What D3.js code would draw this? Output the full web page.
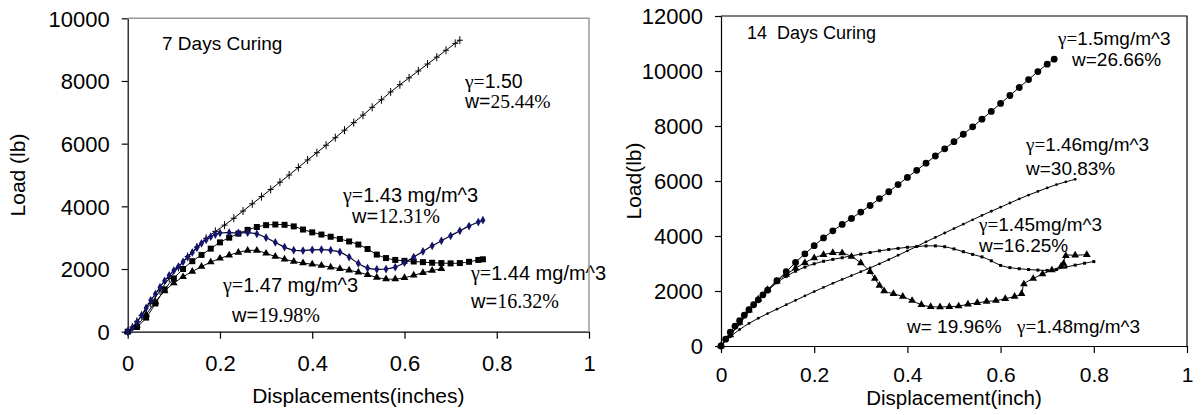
<!DOCTYPE html>
<html><head><meta charset="utf-8">
<script src="https://cdn.jsdelivr.net/npm/d3@7"></script>
<style>
html,body{margin:0;padding:0;background:#fff;}
svg{display:block;}
text{font-family:"Liberation Sans",Arial,sans-serif;fill:#000;}
.serif{font-family:"Liberation Serif","Times New Roman",serif;}
</style></head>
<body>
<svg id="c" width="1201" height="415"></svg>
<script>
// ---------- DATA ----------
const xTicks = [0, 0.2, 0.4, 0.6, 0.8, 1];
const xTickLabels = ["0", "0.2", "0.4", "0.6", "0.8", "1"];
const yTicksL = [0, 2000, 4000, 6000, 8000, 10000];
const yTicksR = [0, 2000, 4000, 6000, 8000, 10000, 12000];

// 7 days curing
const l150_d = [0,0.01,0.02,0.03,0.05,0.07,0.09,0.11,0.13,0.15,0.17,0.19,0.21,0.23,0.25,0.27,0.29,0.31,0.33,0.35,0.37,0.39,0.41,0.43,0.45,0.47,0.49,0.51,0.53,0.55,0.57,0.59,0.61,0.63,0.65,0.67,0.69,0.71,0.72];
const l150_L = [0,150,330,520,900,1300,1700,2050,2400,2700,2980,3200,3400,3620,3850,4080,4310,4540,4770,5000,5240,5480,5710,5950,6190,6430,6670,6910,7160,7400,7650,7880,8100,8320,8540,8760,8980,9200,9300];

const l143_d = [0,0.01,0.02,0.03,0.04,0.05,0.06,0.07,0.08,0.09,0.10,0.11,0.12,0.13,0.14,0.15,0.16,0.17,0.18,0.19,0.20,0.22,0.24,0.26,0.28,0.30,0.32,0.34,0.36,0.38,0.40,0.42,0.44,0.46,0.48,0.50,0.52,0.54,0.56,0.58,0.60,0.62,0.64,0.66,0.68,0.70,0.72,0.74,0.76,0.77];
const l143_L = [0,120,300,520,760,1000,1200,1420,1620,1800,1950,2080,2230,2380,2530,2680,2820,2930,3030,3100,3150,3160,3150,3160,3120,3000,2850,2700,2600,2590,2610,2620,2600,2540,2380,2180,2030,1990,2000,2060,2200,2380,2560,2740,2900,3060,3220,3370,3500,3560];

const l144_d = [0,0.02,0.04,0.06,0.08,0.10,0.12,0.14,0.16,0.18,0.20,0.22,0.24,0.26,0.28,0.30,0.32,0.34,0.36,0.38,0.40,0.42,0.44,0.46,0.48,0.50,0.52,0.54,0.56,0.58,0.60,0.62,0.64,0.66,0.68,0.70,0.72,0.74,0.76,0.77];
const l144_L = [0,150,450,900,1350,1700,2000,2250,2450,2650,2850,3000,3130,3250,3340,3400,3420,3410,3360,3260,3170,3100,3030,2960,2880,2780,2640,2460,2350,2290,2260,2240,2220,2200,2190,2180,2190,2230,2290,2310];

const l147_d = [0,0.02,0.04,0.06,0.08,0.10,0.12,0.14,0.16,0.18,0.20,0.22,0.24,0.26,0.28,0.30,0.32,0.34,0.36,0.38,0.40,0.42,0.44,0.46,0.48,0.50,0.52,0.54,0.56,0.58,0.60,0.62,0.64,0.66,0.68];
const l147_L = [0,200,550,950,1300,1550,1750,1920,2080,2220,2340,2440,2530,2590,2590,2500,2400,2310,2240,2190,2150,2110,2060,2010,1960,1900,1820,1730,1680,1680,1720,1800,1880,1950,2010];

// 14 days curing
const r150_d = [0,0.01,0.02,0.03,0.04,0.05,0.06,0.07,0.08,0.09,0.10,0.12,0.14,0.16,0.18,0.20,0.22,0.24,0.26,0.28,0.30,0.32,0.34,0.36,0.38,0.40,0.42,0.44,0.46,0.48,0.50,0.52,0.54,0.56,0.58,0.60,0.62,0.64,0.66,0.68,0.70,0.715];
const r150_L = [0,250,500,720,920,1120,1320,1500,1680,1860,2030,2380,2700,3040,3350,3650,3930,4190,4420,4640,4870,5110,5360,5610,5870,6130,6390,6650,6910,7170,7430,7700,7970,8250,8530,8820,9110,9400,9690,9980,10250,10430];

const r146_d = [0,0.02,0.04,0.06,0.08,0.10,0.12,0.14,0.16,0.18,0.20,0.22,0.24,0.26,0.28,0.30,0.32,0.34,0.36,0.38,0.40,0.42,0.44,0.46,0.48,0.50,0.52,0.54,0.56,0.58,0.60,0.62,0.64,0.66,0.68,0.70,0.72,0.74,0.76];
const r146_L = [0,330,600,820,1010,1180,1340,1500,1660,1820,1980,2130,2280,2420,2560,2700,2840,2990,3140,3300,3460,3620,3790,3950,4110,4270,4430,4590,4750,4900,5050,5200,5350,5490,5620,5750,5870,5970,6060];

const r145_d = [0,0.02,0.04,0.06,0.08,0.10,0.12,0.14,0.16,0.18,0.20,0.22,0.24,0.26,0.28,0.30,0.32,0.34,0.36,0.38,0.40,0.42,0.44,0.46,0.48,0.50,0.52,0.54,0.56,0.58,0.60,0.62,0.64,0.66,0.68,0.70,0.72,0.74,0.76,0.78,0.80];
const r145_L = [0,400,800,1250,1650,2000,2300,2530,2720,2870,2990,3080,3150,3210,3280,3340,3400,3460,3510,3550,3590,3620,3640,3640,3610,3530,3430,3330,3240,3100,2930,2850,2810,2780,2760,2750,2780,2870,2940,3010,3070];

const r148_d = [0,0.02,0.04,0.06,0.08,0.10,0.12,0.14,0.16,0.18,0.20,0.22,0.24,0.26,0.28,0.30,0.32,0.33,0.34,0.35,0.37,0.39,0.41,0.43,0.45,0.47,0.49,0.51,0.53,0.55,0.57,0.59,0.61,0.63,0.645,0.65,0.67,0.69,0.71,0.73,0.735,0.74,0.76,0.785];
const r148_L = [0,400,850,1300,1700,2050,2350,2600,2830,3030,3200,3320,3390,3380,3250,3020,2700,2450,2200,2000,1900,1800,1650,1500,1430,1420,1430,1450,1520,1570,1620,1650,1720,1800,1900,2250,2450,2620,2760,2900,3000,3280,3300,3320];

const titlesL = ["7 Days Curing"];
const titlesR = ["14  Days Curing"];

// ---------- DRAW ----------
const svg = d3.select("#c");
const xL = d3.scaleLinear().domain([0,1]).range([127.7,589]);
const yL = d3.scaleLinear().domain([0,10000]).range([331.7,18.3]);
const xR = d3.scaleLinear().domain([0,1]).range([721,1187]);
const yR = d3.scaleLinear().domain([0,12000]).range([346,16]);

function axes(x, y, yTicks, xLabDy, xLabSize, xTitle, xTitleY, xTitleSize, yTitle, yTitleX) {
  const g = svg.append("g");
  const gx = g.append("g").attr("transform", `translate(0,${y(0)})`)
    .call(d3.axisBottom(x).tickValues(xTicks).tickFormat((d,i)=>xTickLabels[i]).tickSize(7).tickSizeOuter(0));
  gx.selectAll("text").attr("dy", null).attr("y", xLabDy).style("font-size", xLabSize + "px");
  const gy = g.append("g").attr("transform", `translate(${x(0)},0)`)
    .call(d3.axisLeft(y).tickValues(yTicks).tickFormat(d3.format("d")).tickSize(6).tickSizeOuter(0));
  gy.selectAll("text").attr("x", -18).attr("dy","0.36em").style("font-size","22px");
  g.selectAll(".domain, .tick line").attr("stroke","#000").attr("stroke-width",1.2);
  g.append("text").attr("x",(x.range()[0]+x.range()[1])/2).attr("y",xTitleY)
    .attr("text-anchor","middle").style("font-size", xTitleSize + "px").text(xTitle);
  g.append("text").attr("transform",`translate(${yTitleX},${(y.range()[0]+y.range()[1])/2}) rotate(-90)`)
    .attr("text-anchor","middle").attr("dy","0.35em").style("font-size","21px").text(yTitle);
  return g;
}

axes(xL, yL, yTicksL, 39, 22, "Displacements(inches)", 403, 21, "Load (lb)", 18);
axes(xR, yR, yTicksR, 36, 21, "Displacement(inch)", 405, 20.5, "Load(lb)", 634);

function series(x, y, ds, Ls, opts) {
  const pts = ds.map((d,i)=>[x(d), y(Ls[i])]);
  svg.append("path").attr("d", d3.line().curve(d3.curveCatmullRom.alpha(0.5))(pts))
    .attr("fill","none").attr("stroke", opts.line || "#000").attr("stroke-width", opts.lw || 1);
  const g = svg.append("g");
  pts.forEach(p => {
    if (opts.shape === "plus") {
      g.append("path").attr("d","M0,-4V4M-3,0H3").attr("transform",`translate(${p[0]},${p[1]})`)
        .attr("stroke","#000").attr("stroke-width",1).attr("fill","none");
    } else if (opts.shape === "circle") {
      g.append("circle").attr("cx",p[0]).attr("cy",p[1]).attr("r",opts.r).attr("fill",opts.fill||"#000");
    } else {
      const sym = {square:d3.symbolSquare, triangle:d3.symbolTriangle, diamond:d3.symbolDiamond}[opts.shape];
      g.append("path").attr("d", d3.symbol().type(sym).size(opts.size)())
        .attr("transform",`translate(${p[0]},${p[1]})`).attr("fill", opts.fill || "#000");
    }
  });
}

series(xL, yL, l150_d, l150_L, {shape:"plus"});
series(xL, yL, l144_d, l144_L, {shape:"square", size:36});
series(xL, yL, l147_d, l147_L, {shape:"triangle", size:26});
series(xL, yL, l143_d, l143_L, {shape:"diamond", size:22, fill:"#141470", line:"#000022", lw:1.2});

series(xR, yR, r150_d, r150_L, {shape:"circle", r:3.4});
series(xR, yR, r146_d, r146_L, {shape:"circle", r:1.4});
series(xR, yR, r145_d, r145_L, {shape:"square", size:9});
series(xR, yR, r148_d, r148_L, {shape:"triangle", size:26});

// titles
svg.append("text").attr("x",162).attr("y",50).style("font-size","19px").text(titlesL[0]);
svg.append("text").attr("x",747).attr("y",39).style("font-size","18px").attr("xml:space","preserve").style("white-space","pre").text(titlesR[0]);

// annotations
function gam(x, y, rest, size) {
  const t = svg.append("text").attr("x",x).attr("y",y).style("font-size",size+"px");
  t.append("tspan").attr("class","serif").text("γ=");
  t.append("tspan").text(rest);
}
function wtxt(x, y, num, size, serifNum) {
  const t = svg.append("text").attr("x",x).attr("y",y).style("font-size",size+"px").attr("xml:space","preserve");
  t.append("tspan").text("w=");
  const s = t.append("tspan").text(num);
  if (serifNum) s.attr("class","serif");
}
gam(465, 88, "1.50", 19.5);
wtxt(465, 108, "25.44%", 19.5, true);
gam(343, 202, "1.43 mg/m^3", 20);
wtxt(352, 223, "12.31%", 20, true);
gam(223, 292, "1.47 mg/m^3", 20);
wtxt(232, 322, "19.98%", 20, true);
gam(471, 280, "1.44 mg/m^3", 20);
wtxt(471, 308, "16.32%", 20, true);

gam(1058, 45, "1.5mg/m^3", 19);
wtxt(1072, 66, "26.66%", 19, false);
gam(1026, 151, "1.46mg/m^3", 19);
wtxt(1026, 175, "30.83%", 19, false);
gam(979, 231, "1.45mg/m^3", 19);
wtxt(979, 252, "16.25%", 19, false);
wtxt(907, 333, " 19.96%", 19, false);
gam(1017, 333, "1.48mg/m^3", 19);

// frames (top & right)
svg.append("path").attr("d",`M${xL(0)},${yL(10000)}H${xL(1)}V${yL(0)}`).attr("fill","none").attr("stroke","#999").attr("stroke-width",1.5);
svg.append("path").attr("d",`M${xR(0)},${yR(12000)}H${xR(1)}V${yR(0)}`).attr("fill","none").attr("stroke","#000").attr("stroke-width",1.2);
</script>
</body></html>
